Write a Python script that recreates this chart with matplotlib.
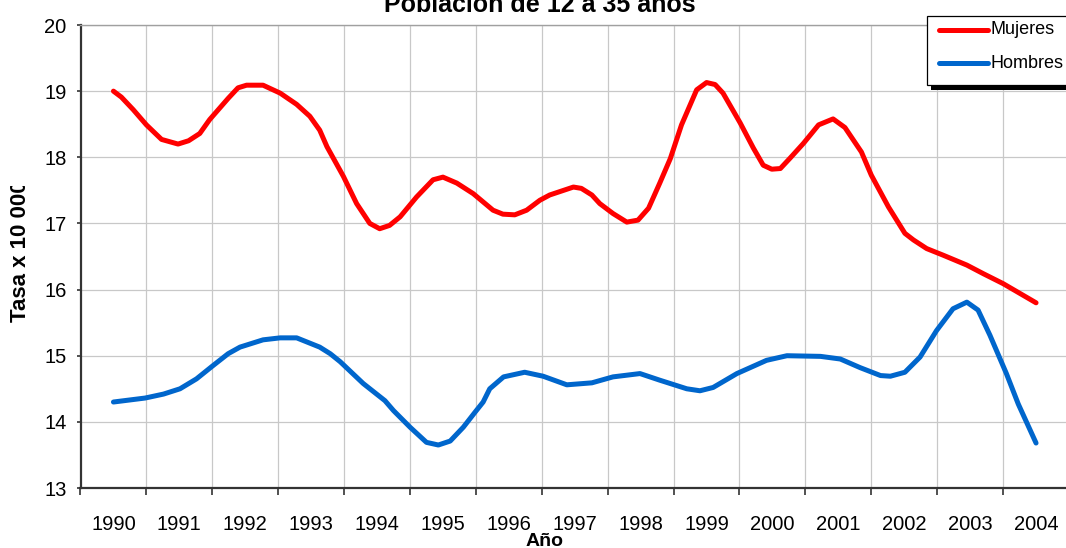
import matplotlib
matplotlib.use("Agg")
import matplotlib.pyplot as plt
from matplotlib.patches import Rectangle
from matplotlib.lines import Line2D
from matplotlib.transforms import Bbox

plt.rcParams['font.family'] = ['Liberation Sans', 'DejaVu Sans']

# Data (decimal year, rate per 10 000)
years = list(range(1990, 2005))

mujeres_x = [1990.00, 1990.12, 1990.30, 1990.50, 1990.73, 1990.98, 1991.14, 1991.31,
             1991.46, 1991.74, 1991.89, 1992.02, 1992.27, 1992.53, 1992.78, 1992.98,
             1993.13, 1993.24, 1993.49, 1993.69, 1993.89, 1994.04, 1994.19, 1994.35,
             1994.60, 1994.85, 1995.00, 1995.21, 1995.46, 1995.76, 1995.91, 1996.09,
             1996.27, 1996.47, 1996.62, 1996.98, 1997.10, 1997.26, 1997.38, 1997.58,
             1997.79, 1997.96, 1998.12, 1998.29, 1998.45, 1998.62, 1998.85, 1999.00,
             1999.13, 1999.25, 1999.51, 1999.71, 1999.86, 1999.99, 2000.12, 2000.27,
             2000.47, 2000.70, 2000.92, 2001.10, 2001.35, 2001.50, 2001.76, 2002.01,
             2002.14, 2002.34, 2002.59, 2002.95, 2003.20, 2003.50, 2004.00]
mujeres_y = [19.00, 18.91, 18.72, 18.49, 18.27, 18.20, 18.25, 18.36,
             18.57, 18.89, 19.05, 19.09, 19.09, 18.97, 18.80, 18.62,
             18.41, 18.16, 17.71, 17.30, 17.00, 16.92, 16.97, 17.10,
             17.40, 17.66, 17.70, 17.61, 17.45, 17.20, 17.14, 17.13,
             17.20, 17.35, 17.43, 17.55, 17.53, 17.43, 17.30, 17.15,
             17.02, 17.05, 17.23, 17.61, 17.98, 18.49, 19.02, 19.13,
             19.10, 18.97, 18.52, 18.14, 17.88, 17.82, 17.83, 17.99,
             18.21, 18.49, 18.58, 18.45, 18.08, 17.73, 17.25, 16.85,
             16.75, 16.62, 16.52, 16.37, 16.24, 16.09, 15.80]

hombres_x = [1990.00, 1990.48, 1990.76, 1991.01, 1991.26, 1991.51, 1991.74, 1991.92,
             1992.27, 1992.53, 1992.78, 1993.13, 1993.29, 1993.44, 1993.79,
             1994.12, 1994.25, 1994.50, 1994.75, 1994.93, 1995.11, 1995.31, 1995.49,
             1995.61, 1995.71, 1995.92, 1996.24, 1996.52, 1996.88, 1997.26, 1997.58,
             1997.99, 1998.29, 1998.70, 1998.90, 1999.10, 1999.46, 1999.91, 2000.22,
             2000.73, 2001.03, 2001.33, 2001.64, 2001.79, 2002.01, 2002.24, 2002.49,
             2002.74, 2002.95, 2003.12, 2003.30, 2003.55, 2003.73, 2004.00]
hombres_y = [14.30, 14.36, 14.42, 14.50, 14.65, 14.85, 15.03, 15.13,
             15.24, 15.27, 15.27, 15.13, 15.03, 14.91, 14.58,
             14.32, 14.17, 13.92, 13.69, 13.65, 13.71, 13.92, 14.15,
             14.30, 14.50, 14.68, 14.75, 14.69, 14.56, 14.59, 14.68,
             14.73, 14.63, 14.50, 14.47, 14.52, 14.73, 14.93, 15.00,
             14.99, 14.95, 14.82, 14.70, 14.69, 14.75, 14.98, 15.38,
             15.71, 15.81, 15.69, 15.31, 14.73, 14.27, 13.68]

W, H = 1066, 548
fig = plt.figure(figsize=(W / 100, H / 100), dpi=100)

# plot area in pixels: left 80.5, right edge of image, top 25, bottom 488
ax = fig.add_axes([80.5 / W, (H - 488) / H, (W - 80.5) / W, (488 - 25) / H])

ax.plot(mujeres_x, mujeres_y, color='#FF0000', lw=3.6,
        solid_joinstyle='round', solid_capstyle='round', zorder=3, clip_on=False)
ax.plot(hombres_x, hombres_y, color='#0066CC', lw=3.6,
        solid_joinstyle='round', solid_capstyle='round', zorder=3, clip_on=False)

ax.set_xlim(1989.5, 1989.5 + (W - 80.5) / 65.9)
ax.set_ylim(13, 20)

# category boundaries as major ticks, year labels centered as minor ticks
ax.set_xticks([y - 0.5 for y in years])
ax.set_xticklabels([])
ax.set_xticks(years, minor=True)
ax.set_xticklabels([str(y) for y in years], minor=True, fontsize=14.5)
ax.tick_params(axis='x', which='major', direction='out', length=5, width=1.2, color='#333333')
ax.tick_params(axis='x', which='minor', length=0, pad=19.5)

ax.set_yticks(range(13, 21))
ax.set_yticklabels([str(v) for v in range(13, 21)], fontsize=14.5)
ax.tick_params(axis='y', direction='out', length=3, width=1.2, color='#333333', pad=7)

ax.grid(True, which='major', color='#c8c8c8', lw=0.9)
ax.set_axisbelow(True)

ax.spines['right'].set_visible(False)
ax.spines['top'].set_color('#a0a0a0')
ax.spines['top'].set_linewidth(1.0)
for s in ('left', 'bottom'):
    ax.spines[s].set_color('#333333')
    ax.spines[s].set_linewidth(1.6)

# titles
fig.text(540 / W, 1 - 12 / H, 'Población de 12 a 35 años', ha='center', va='baseline',
         fontsize=18, fontweight='bold')
fig.text(545 / W, 1 - 533 / H, 'Año', ha='center', va='top', fontsize=14, fontweight='bold')
ylab = fig.text(20 / W, 1 - 322 / H, 'Tasa x 10 000', rotation=90, ha='center', va='bottom',
                fontsize=16, fontweight='bold')
ylab.set_clip_on(True)
ylab.set_clip_box(Bbox([[0, 0], [W, H - 186]]))

# legend box with shadow, drawn in pixel coordinates
lax = fig.add_axes([0, 0, 1, 1], zorder=5)
lax.set_xlim(0, W)
lax.set_ylim(H, 0)
lax.axis('off')
lax.add_patch(Rectangle((931, 21), 200, 69, facecolor='black', edgecolor='none'))
lax.add_patch(Rectangle((927, 16), 200, 68.5, facecolor='white', edgecolor='black', lw=0.9))
legend_items = [('Mujeres', '#FF0000', 30), ('Hombres', '#0066CC', 63)]
for label, col, yy in legend_items:
    lax.add_line(Line2D([939, 988], [yy, yy], color=col, lw=3.6, solid_capstyle='round'))
    lax.text(991, yy, label, va='center', ha='left', fontsize=13)

fig.savefig('out.png', dpi=100)
